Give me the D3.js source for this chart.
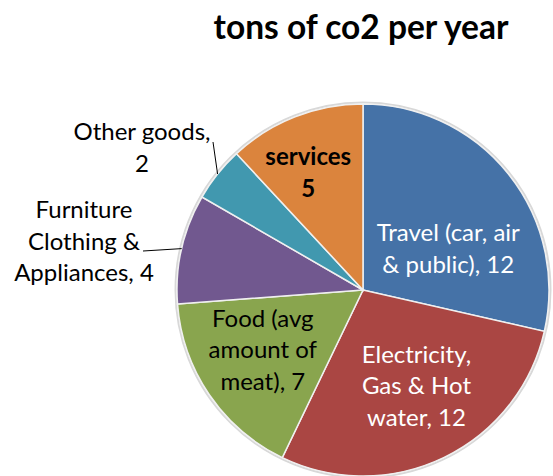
<!DOCTYPE html>
<html>
<head>
<meta charset="utf-8">
<script src="https://cdn.jsdelivr.net/npm/d3@7"></script>
<style>
  body { margin: 0; background: #fff; }
  text { font-family: Lato, "Open Sans", sans-serif; }
</style>
</head>
<body>
<div id="chart"></div>
<script>
//// data
var categories = ["Travel (car, air & public)", "Electricity, Gas & Hot water",
                  "Food (avg amount of meat)", "Furniture Clothing & Appliances",
                  "Other goods", "services"];
var values = [12, 12, 7, 4, 2, 5];
var colors = ["#4572A7", "#AA4643", "#89A54E", "#71588F", "#4198AF", "#DB843D"];
// label lines as they wrap in the picture
var labelLines = [
  ["Travel (car, air", "& public), 12"],
  ["Electricity,", "Gas & Hot", "water, 12"],
  ["Food (avg", "amount of", "meat), 7"],
  ["Furniture", "Clothing &", "Appliances, 4"],
  ["Other goods,", "2"],
  ["services", "5"]
];

//// chart
var width = 553, height = 476;
var cx = 363, cy = 290, radius = 186;

var svg = d3.select("#chart")
  .append("svg")
    .attr("width", width)
    .attr("height", height);

svg.append("text")
  .attr("x", 361)
  .attr("y", 39)
  .attr("text-anchor", "middle")
  .attr("font-weight", "bold")
  .attr("font-size", 33.5)
  .attr("fill", "#000")
  .text("tons of co2 per year");

var data = categories.map(function(c, i) {
  return {name: c, value: values[i], color: colors[i], lines: labelLines[i]};
});

var pie = d3.pie()
  .value(d => d.value)
  .sort(null);

var arc = d3.arc().innerRadius(0).outerRadius(radius);
var labelArc = d3.arc().innerRadius(radius * 0.6).outerRadius(radius * 0.6);
var edgeArc = d3.arc().innerRadius(radius).outerRadius(radius);

var arcs = pie(data);

var g = svg.append("g")
  .attr("transform", "translate(" + cx + "," + cy + ")");

// soft edge like the original
g.append("circle")
  .attr("r", radius + 1.5)
  .attr("fill", "none")
  .attr("stroke", "#d8d8d8")
  .attr("stroke-width", 2);

g.selectAll(".slice")
  .data(arcs)
  .enter()
  .append("path")
  .attr("class", "slice")
  .attr("d", arc)
  .attr("fill", d => d.data.color)
  .attr("stroke", "#f0f0f0")
  .attr("stroke-width", 1.5);

//// inside labels: offset from centroid to first baseline
var inside = {
  0: {dx: -2, dy: 21, fill: "#fff", weight: "normal"},
  1: {dx: 5, dy: -28, fill: "#fff", weight: "normal"},
  2: {dx: -8, dy: -26, fill: "#000", weight: "normal"},
  5: {dx: -14, dy: -21, fill: "#000", weight: "bold"}
};
var lineH = 31.5;
var fs = 24;

arcs.forEach(function(d, i) {
  if (!inside[i]) return;
  var c = labelArc.centroid(d);
  var o = inside[i];
  var t = g.append("text")
    .attr("text-anchor", "middle")
    .attr("font-size", o.weight == "bold" ? 24 : fs)
    .attr("font-weight", o.weight)
    .attr("fill", o.fill);
  d.data.lines.forEach(function(line, k) {
    t.append("tspan")
      .attr("x", c[0] + o.dx)
      .attr("y", c[1] + o.dy + k * lineH)
      .text(line);
  });
});

//// outside labels with leader lines
var outside = {
  3: {x: -279, y: -72, lx: -220, ly: -39},
  4: {x: -221, y: -150, lx: -150, ly: -148}
};

arcs.forEach(function(d, i) {
  if (!outside[i]) return;
  var o = outside[i];
  var e = edgeArc.centroid(d);
  g.append("line")
    .attr("x1", o.lx).attr("y1", o.ly)
    .attr("x2", e[0]).attr("y2", e[1])
    .attr("stroke", "#000")
    .attr("stroke-width", 1);
  var t = g.append("text")
    .attr("text-anchor", "middle")
    .attr("font-size", fs)
    .attr("fill", "#000");
  d.data.lines.forEach(function(line, k) {
    t.append("tspan")
      .attr("x", o.x)
      .attr("y", o.y + k * lineH)
      .text(line);
  });
});
</script>
</body>
</html>
